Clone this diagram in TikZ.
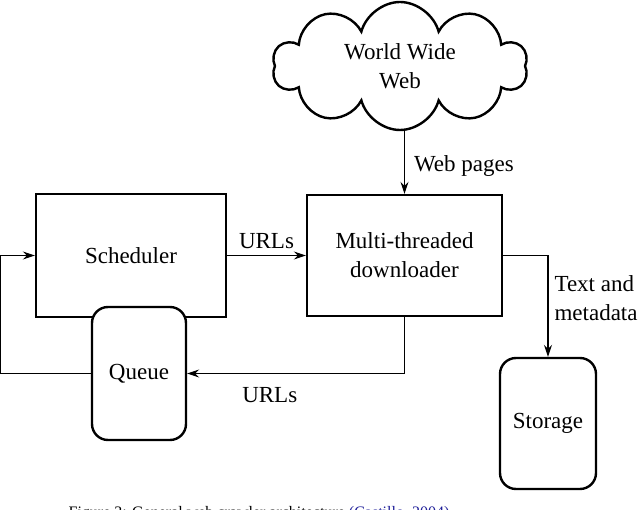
\documentclass[tikz,border=0pt]{standalone}
\usepackage{fontspec}
\setmainfont{Liberation Serif}
\usepackage{xcolor}
\usetikzlibrary{positioning}
\usetikzlibrary{arrows.meta, shapes}
\definecolor{citeblue}{rgb}{0.12,0.12,0.6}

\begin{document}
\begin{tikzpicture}[x=1pt, y=1pt, node distance = 8pt,
		every node/.style={font=\fontsize{23}{29}\selectfont},
		proc/.style={draw, line width=2.4pt, align=center},
		store/.style={draw, line width=2.4pt, rounded corners=16pt, fill=white},
		link/.style={line width=1.1pt, -{Stealth[length=12pt, width=8pt, inset=4pt]}}]
		\useasboundingbox (0,0) rectangle (640,-510);
	
		\node[cloud, cloud puffs=10, cloud ignores aspect, draw, line width=2.4pt, align=center,
			minimum width=255pt, minimum height=128pt] (web) at (400,-66) {World Wide\\Web};
		\node[proc, minimum width=190pt, minimum height=123pt] (sched) at (131,-255.5) {Scheduler};
		\node[proc, minimum width=195pt, minimum height=121pt] (down) at (404.5,-255.5) {Multi-threaded\\downloader};
		\node[store, minimum width=94pt, minimum height=133pt] (queue) at (139,-373.5) {Queue};
		\node[store, minimum width=96pt, minimum height=131pt] (disk) at (548,-423.5) {Storage};
		
		\draw[link] (web.south -| down.north) -- node[pos=0.55, right, inner sep=9pt] {Web pages} (down.north);
		\draw[link] (sched) -- node[above, inner sep=6pt] {URLs} (down);
		\draw[link] (down.south) |- node[pos=0.81, below, inner sep=13pt] {URLs} (queue.east);
		\draw[link] (queue.west) -- ++(-90,0) |- (sched.west);
		\draw[link] (down.east) -| node[pos=0.71, right, align=left, inner sep=6pt] {Text and\\metadata} (disk.north);
		
		\node[anchor=base, font=\fontsize{16}{19}\selectfont] (caption) at (259,-517)
			{Figure 3: General web crawler architecture {\color{citeblue}(Castillo, 2004)}};
		
\end{tikzpicture}
\end{document}
